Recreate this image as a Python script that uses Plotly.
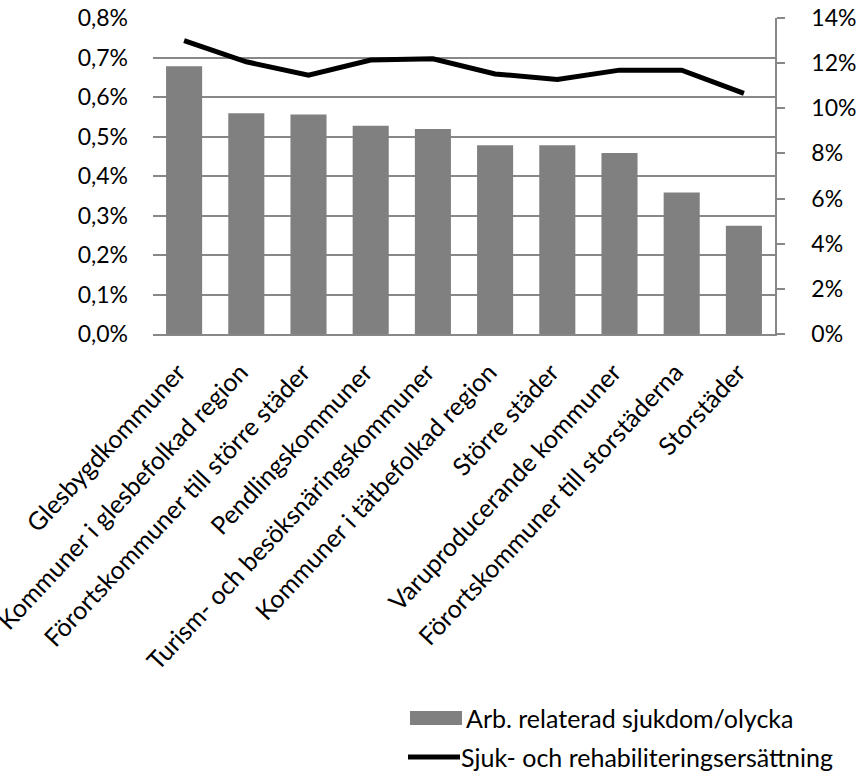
import plotly.graph_objects as go

categories = [
    "Glesbygdkommuner",
    "Kommuner i glesbefolkad region",
    "Förortskommuner till större städer",
    "Pendlingskommuner",
    "Turism- och besöksnäringskommuner",
    "Kommuner i tätbefolkad region",
    "Större städer",
    "Varuproducerande kommuner",
    "Förortskommuner till storstäderna",
    "Storstäder",
]
arb_relaterad = [0.00678, 0.00559, 0.00556, 0.00527, 0.00519, 0.00478, 0.00478, 0.00458, 0.00358, 0.00274]
sjuk_rehab = [0.130, 0.1206, 0.1147, 0.1214, 0.1219, 0.1152, 0.1128, 0.1169, 0.1169, 0.1066]

bar_name = "Arb. relaterad sjukdom/olycka"
line_name = "Sjuk- och rehabiliteringsersättning"

FONT = "Lato"
GRID = "#888888"
W, H = 862, 771
ML, MR, MT, MB = 153, 87, 18, 437
FS = 25

fig = go.Figure()
fig.add_trace(go.Bar(x=categories, y=arb_relaterad, name=bar_name,
                     marker=dict(color="#808080", line=dict(width=0)),
                     yaxis="y", showlegend=False))
fig.add_trace(go.Scatter(x=categories, y=sjuk_rehab, name=line_name, mode="lines",
                         line=dict(color="black", width=5), yaxis="y2", showlegend=False))

fig.update_layout(
    width=W, height=H,
    margin=dict(l=ML, r=MR, t=MT, b=MB),
    paper_bgcolor="white", plot_bgcolor="white",
    separators=", ",
    bargap=0.42,
    font=dict(family=FONT, size=FS, color="black"),
    xaxis=dict(showgrid=False, showline=True, linecolor=GRID, linewidth=1.5,
               tickangle=-47, tickfont=dict(size=FS), automargin=False,
               ticks="", ticklabelstandoff=12, ticklabelshift=-6, range=[-0.5, 9.5]),
    yaxis=dict(range=[0, 0.008], dtick=0.001, tickformat=".1%", showgrid=True,
               gridcolor=GRID, gridwidth=1.5, showline=False, zeroline=False,
               ticks="", ticklabelstandoff=24, tickfont=dict(size=23), automargin=False),
    yaxis2=dict(range=[0, 0.14], dtick=0.02, tickformat=".0%", overlaying="y", side="right",
                showgrid=False, showline=True, linecolor=GRID, linewidth=1.5, zeroline=False,
                ticks="outside", ticklen=8, tickcolor=GRID, tickwidth=1.5,
                ticklabelstandoff=22, tickfont=dict(size=23), automargin=False),
)

plot_w = W - ML - MR
plot_h = H - MT - MB
def px(pix):
    return (pix - ML) / plot_w
def py(pix):
    return (H - MB - pix) / plot_h

# manual legend
fig.add_shape(type="rect", xref="paper", yref="paper",
              x0=px(410), x1=px(462), y0=py(725), y1=py(711),
              fillcolor="#808080", line=dict(width=0))
fig.add_shape(type="line", xref="paper", yref="paper",
              x0=px(408), x1=px(460), y0=py(757), y1=py(757),
              line=dict(color="black", width=5))
fig.add_annotation(xref="paper", yref="paper", x=px(464), y=py(718),
                   text=bar_name, showarrow=False, xanchor="left", yanchor="middle",
                   font=dict(size=FS))
fig.add_annotation(xref="paper", yref="paper", x=px(459), y=py(757),
                   text=line_name, showarrow=False, xanchor="left", yanchor="middle",
                   font=dict(size=FS))

fig.write_html("out.html", config={"displayModeBar": False},
               post_script="document.body.style.margin='0';")
